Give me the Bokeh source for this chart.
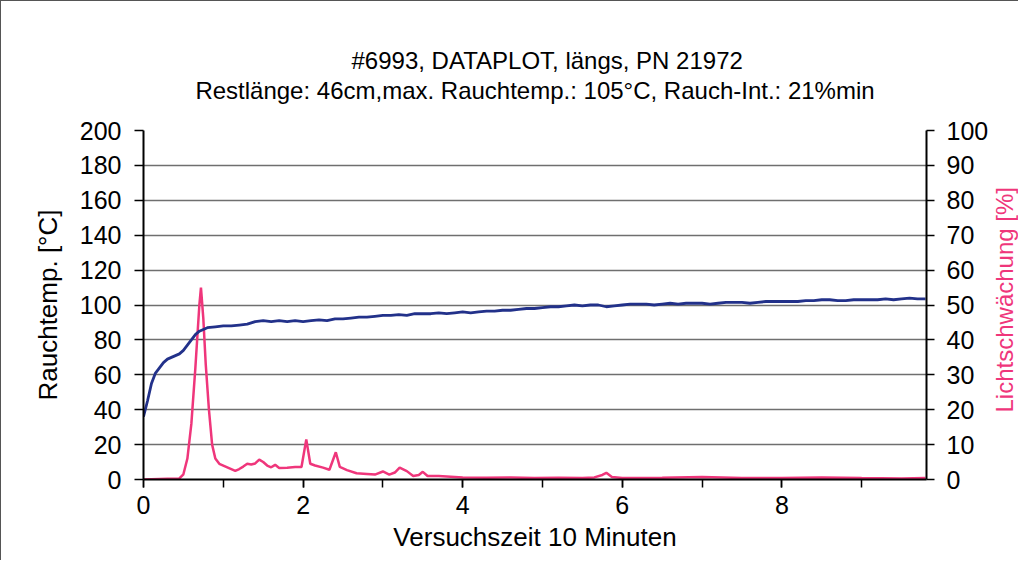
import math
from bokeh.plotting import figure
from bokeh.layouts import row
from bokeh.models import Range1d, LinearAxis, SingleIntervalTicker, FixedTicker, Title
from bokeh.core.properties import value
from bokeh.embed import file_html
from bokeh.resources import INLINE

# ---- data ----
temp_time = [0.0, 0.05, 0.1, 0.15, 0.2, 0.25, 0.3, 0.35, 0.4, 0.45, 0.5, 0.55, 0.6, 0.65, 0.7, 0.75, 0.8,
             0.9, 1.0, 1.1, 1.2, 1.3, 1.4, 1.5, 1.6, 1.7, 1.8, 1.9, 2.0, 2.1, 2.2, 2.3, 2.4, 2.5, 2.6, 2.7,
             2.8, 2.9, 3.0, 3.1, 3.2, 3.3, 3.4, 3.5, 3.6, 3.7, 3.8, 3.9, 4.0, 4.1, 4.2, 4.3, 4.4, 4.5, 4.6,
             4.7, 4.8, 4.9, 5.0, 5.1, 5.2, 5.3, 5.4, 5.5, 5.6, 5.7, 5.8, 5.9, 6.0, 6.1, 6.2, 6.3, 6.4, 6.5,
             6.6, 6.7, 6.8, 6.9, 7.0, 7.1, 7.2, 7.3, 7.4, 7.5, 7.6, 7.7, 7.8, 7.9, 8.0, 8.1, 8.2, 8.3, 8.4,
             8.5, 8.6, 8.7, 8.8, 8.9, 9.0, 9.1, 9.2, 9.3, 9.4, 9.5, 9.6, 9.7, 9.8]
temp_values = [36, 45, 55, 61, 64, 67, 69, 70, 71, 72, 74, 77, 80, 83, 85, 86, 87,
               87.5, 88, 88, 88.5, 89, 90.5, 91, 90.5, 91, 90.5, 91, 90.5, 91, 91.5, 91, 92, 92, 92.5, 93,
               93, 93.5, 94, 94, 94.5, 94, 95, 95, 95, 95.5, 95, 95.5, 96, 95.5, 96, 96.5, 96.5, 97, 97,
               97.5, 98, 98, 98.5, 99, 99, 99.5, 100, 99.5, 100, 100, 99, 99.5, 100, 100.5, 100.5, 100.5, 100, 100.5,
               101, 100.5, 101, 101, 101, 100.5, 101, 101.5, 101.5, 101.5, 101, 101.5, 102, 102, 102, 102, 102, 102.5, 102.5,
               103, 103, 102.5, 102.5, 103, 103, 103, 103, 103.5, 103, 103.5, 104, 103.5, 103.5]

smoke_time = [0.0, 0.3, 0.45, 0.5, 0.55, 0.6, 0.65, 0.7, 0.72, 0.75, 0.78, 0.82, 0.86, 0.9, 0.95, 1.0,
              1.1, 1.15, 1.2, 1.25, 1.3, 1.35, 1.4, 1.45, 1.5, 1.55, 1.6, 1.65, 1.7, 1.8, 1.9, 1.98,
              2.04, 2.09, 2.15, 2.25, 2.33, 2.41, 2.46, 2.55, 2.67, 2.8, 2.9, 3.0, 3.08, 3.15, 3.21,
              3.3, 3.38, 3.45, 3.5, 3.56, 3.7, 3.85, 4.0, 4.3, 4.6, 4.9, 5.2, 5.5, 5.65, 5.75, 5.8,
              5.87, 6.0, 6.5, 7.0, 7.5, 8.0, 8.5, 9.0, 9.5, 9.8]
smoke_values = [0, 0.2, 0.3, 1.5, 6, 16, 32, 50, 55, 46, 33, 20, 10, 6, 4.5, 4,
                3, 2.5, 3, 3.7, 4.5, 4.3, 4.6, 5.7, 5, 4, 3.5, 4.2, 3.3, 3.4, 3.6, 3.6,
                11.5, 4.5, 4, 3.4, 2.8, 7.8, 3.6, 2.7, 1.8, 1.6, 1.4, 2.3, 1.4, 2, 3.4,
                2.4, 1, 1.3, 2.2, 1, 1, 0.8, 0.6, 0.5, 0.6, 0.4, 0.5, 0.4, 0.6, 1.3, 1.9,
                0.7, 0.4, 0.5, 0.7, 0.4, 0.4, 0.6, 0.4, 0.3, 0.4]

title_lines = ["#6993, DATAPLOT, längs, PN 21972",
               "Restlänge: 46cm,max. Rauchtemp.: 105°C, Rauch-Int.: 21%min"]
x_label = "Versuchszeit 10 Minuten"
y_label = "Rauchtemp. [°C]"
y2_label = "Lichtschwächung [%]"

FONT = "Liberation Sans"
BLUE = "#22318a"
PINK = "#ef367b"
X_END = 9.8125
BORDER = "1.5px solid #555"

p = figure(width=990, height=560, output_backend="svg", toolbar_location=None,
           x_range=Range1d(0, X_END), y_range=Range1d(0, 200),
           min_border_left=142, min_border_right=63, min_border_top=129, min_border_bottom=82,
           background_fill_color="white", border_fill_color="white")
p.outline_line_color = None
p.styles = {"border-top": BORDER, "border-left": BORDER}
p.extra_y_ranges = {"pct": Range1d(0, 100)}

# grid
p.xgrid.grid_line_color = None
p.ygrid.grid_line_color = "#6f6f6f"
p.ygrid.grid_line_width = 1.5

# x axis
xa = p.xaxis[0]
xa.ticker = SingleIntervalTicker(interval=2, num_minor_ticks=2)
xa.axis_label = x_label
xa.axis_line_color = "black"
xa.axis_line_width = 2
xa.major_tick_in = 0
xa.major_tick_out = 8
xa.minor_tick_in = 0
xa.minor_tick_out = 8
xa.major_tick_line_color = "black"
xa.minor_tick_line_color = "black"
xa.major_tick_line_width = 1.5
xa.minor_tick_line_width = 1.5
xa.major_label_text_font = FONT
xa.major_label_text_font_size = "25px"
xa.major_label_text_color = "black"
xa.major_label_standoff = 8
xa.axis_label_text_font = FONT
xa.axis_label_text_font_size = "26px"
xa.axis_label_text_font_style = "normal"
xa.axis_label_text_color = "black"
xa.axis_label_standoff = 5

# left y axis
ya = p.yaxis[0]
ya.ticker = SingleIntervalTicker(interval=20, num_minor_ticks=0)
ya.axis_label = y_label
ya.axis_line_color = "black"
ya.axis_line_width = 2
ya.major_tick_in = 0
ya.major_tick_out = 9
ya.minor_tick_line_color = None
ya.major_tick_line_color = "black"
ya.major_tick_line_width = 1.5
ya.major_label_text_font = FONT
ya.major_label_text_font_size = "25px"
ya.major_label_text_color = "black"
ya.major_label_standoff = 13
ya.axis_label_text_font = FONT
ya.axis_label_text_font_size = "26px"
ya.axis_label_text_font_style = "normal"
ya.axis_label_text_color = "black"
ya.axis_label_standoff = 14

# right y axis (percent scale)
ra = LinearAxis(y_range_name="pct", ticker=SingleIntervalTicker(interval=10, num_minor_ticks=0))
ra.axis_line_color = "black"
ra.axis_line_width = 2
ra.major_tick_in = 0
ra.major_tick_out = 8
ra.minor_tick_line_color = None
ra.major_tick_line_color = "black"
ra.major_tick_line_width = 1.5
ra.major_label_text_font = FONT
ra.major_label_text_font_size = "25px"
ra.major_label_text_color = "black"
ra.major_label_standoff = 12
p.add_layout(ra, "right")

# series
p.line(smoke_time, smoke_values, y_range_name="pct", line_color=PINK, line_width=2.5)
p.line(temp_time, temp_values, line_color=BLUE, line_width=2.8)

# second title line: carried by a tick-less axis directly above the frame
ta = LinearAxis(ticker=FixedTicker(ticks=[]))
ta.axis_line_color = None
ta.major_tick_line_color = None
ta.minor_tick_line_color = None
ta.major_tick_out = 0
ta.minor_tick_out = 0
ta.major_label_standoff = 0
ta.axis_label = title_lines[1]
ta.axis_label_text_font = FONT
ta.axis_label_text_font_size = "24px"
ta.axis_label_text_font_style = "normal"
ta.axis_label_text_color = "black"
ta.axis_label_standoff = 27
p.add_layout(ta, "above")

# first title line
p.add_layout(Title(text=title_lines[0], align="left", offset=208, text_font=FONT,
                   text_font_size="24px", text_font_style="normal", text_color="black",
                   standoff=0), "above")

# narrow strip at the right carrying the percent-axis caption (reads bottom to top)
p2 = figure(width=28, height=560, output_backend="svg", toolbar_location=None,
            x_range=Range1d(0, 1), y_range=Range1d(0, 100),
            min_border_left=0, min_border_right=0, min_border_top=129, min_border_bottom=82,
            background_fill_color="white", border_fill_color="white")
p2.outline_line_color = None
p2.axis.visible = False
p2.grid.visible = False
p2.styles = {"border-top": BORDER}
p2.text(x=[0.5], y=[51.5], text=[y2_label], angle=math.pi / 2,
        text_align="center", text_baseline="middle",
        text_font=value(FONT), text_font_size=value("24px"), text_color=PINK)

open("out.html", "w").write(file_html(row(p, p2), INLINE))
